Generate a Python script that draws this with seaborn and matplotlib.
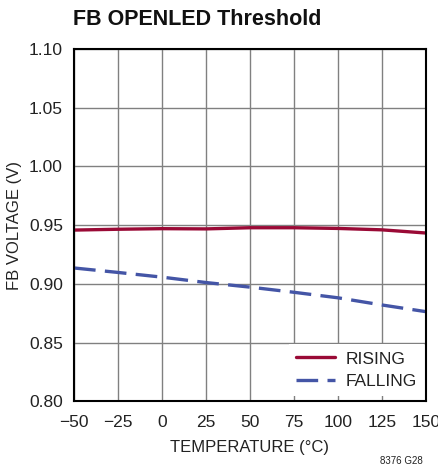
import matplotlib
matplotlib.use("Agg")
import matplotlib.pyplot as plt
import seaborn as sns
import pandas as pd

temps = [-50, -25, 0, 25, 50, 75, 100, 125, 150]
rising = [0.9458, 0.9465, 0.9470, 0.9468, 0.9478, 0.9478, 0.9472, 0.9460, 0.9433]
falling = [0.9135, 0.9097, 0.9057, 0.9011, 0.8972, 0.8928, 0.8881, 0.8820, 0.8763]

df = pd.concat([
    pd.DataFrame({"temp": temps, "volt": rising, "series": "RISING"}),
    pd.DataFrame({"temp": temps, "volt": falling, "series": "FALLING"}),
])

sns.set_style("white")
plt.rcParams['font.family'] = ['Liberation Sans', 'DejaVu Sans']

fig = plt.figure(figsize=(4.39, 4.72), dpi=100)
ax = fig.add_axes([0.1686, 0.150, 0.8014, 0.746])

sns.lineplot(data=df, x="temp", y="volt", hue="series", style="series",
             palette={"RISING": "#9a0a36", "FALLING": "#4455a6"},
             dashes={"RISING": "", "FALLING": (6.5, 2.8)},
             linewidth=2.4, ax=ax)

ax.set_xlim(-50, 150)
ax.set_ylim(0.80, 1.10)
ax.set_xticks(range(-50, 151, 25))
ax.set_xticklabels(["\u221250", "\u221225", "0", "25", "50", "75", "100", "125", "150"])
ax.set_yticks([0.80, 0.85, 0.90, 0.95, 1.00, 1.05, 1.10])
ax.set_yticklabels(["0.80", "0.85", "0.90", "0.95", "1.00", "1.05", "1.10"])
ax.grid(True, color="#808080", linewidth=1.0)
ax.tick_params(labelsize=12.5, length=0, labelcolor="#222222")
ax.tick_params(axis="x", pad=10)
ax.tick_params(axis="y", pad=8)
for s in ax.spines.values():
    s.set_color("black")
    s.set_linewidth(1.5)

ax.set_xlabel("TEMPERATURE (\u00b0C)", fontsize=12, labelpad=7, color="#222222")
ax.set_ylabel("FB VOLTAGE (V)", fontsize=12, labelpad=5, color="#222222")

leg = ax.legend(loc="lower right", bbox_to_anchor=(1.0, 0.011), fontsize=12.5,
                frameon=True, fancybox=False, framealpha=1, edgecolor="white",
                handlelength=2.3, borderaxespad=0.1, labelspacing=0.4,
                handletextpad=0.6)
leg.get_frame().set_linewidth(0)
for t in leg.get_texts():
    t.set_color("#222222")

fig.text(0.166, 0.958, "FB OPENLED Threshold", fontsize=15.5, fontweight="bold",
         va="center", ha="left", color="#111111")
fig.text(0.963, 0.012, "8376 G28", fontsize=7, ha="right", va="bottom", color="#222222")

plt.savefig("out.png", dpi=100)
